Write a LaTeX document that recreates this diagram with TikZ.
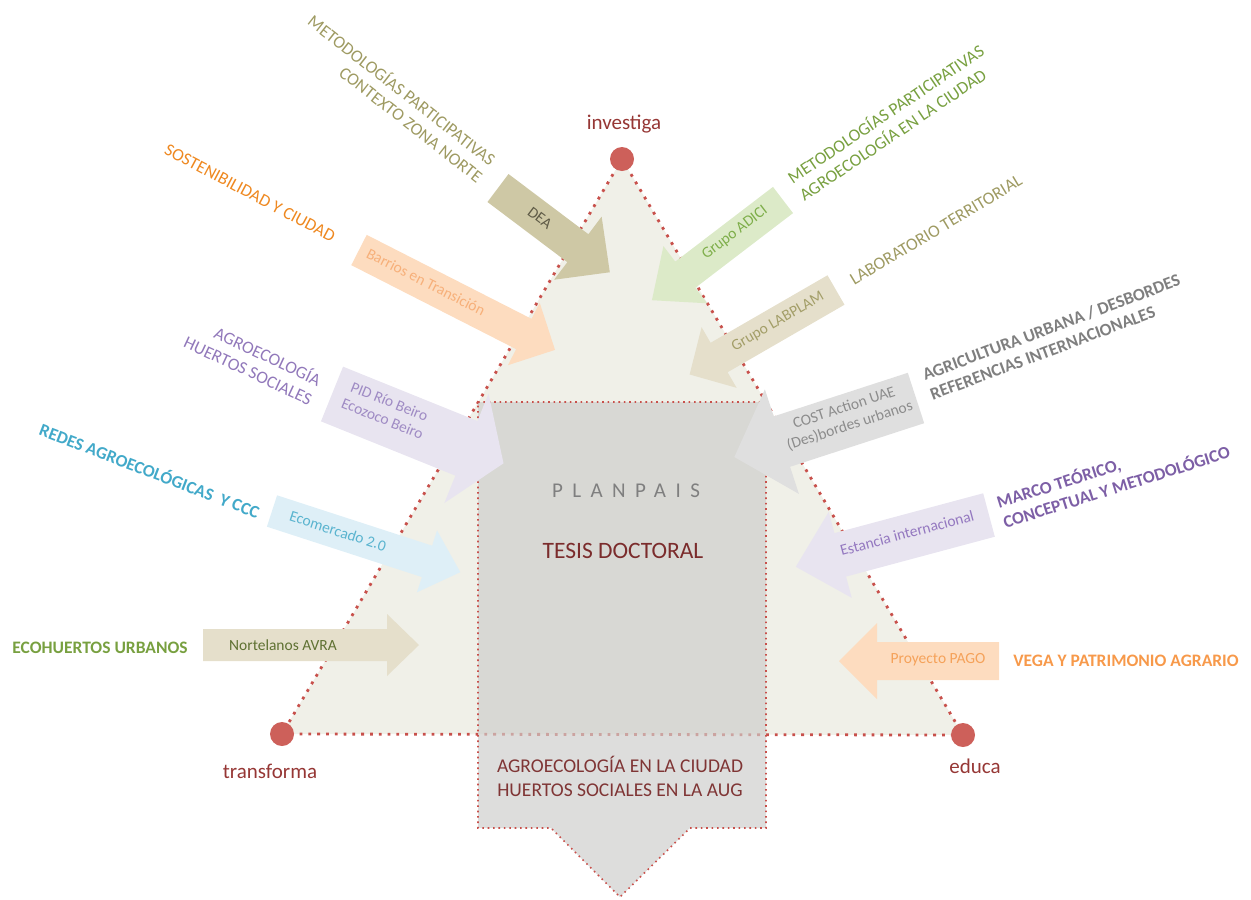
\documentclass[tikz,border=0pt]{standalone}
\usepackage{fontspec}
\setmainfont{Carlito}
\definecolor{tribg}{RGB}{240,240,232}
\definecolor{dotred}{RGB}{200,80,75}
\definecolor{vtxred}{RGB}{205,96,90}
\definecolor{darkred}{RGB}{150,55,53}
\definecolor{boxgray}{RGB}{205,205,203}
\definecolor{khaki}{RGB}{206,200,165}
\definecolor{peach}{RGB}{253,220,191}
\definecolor{lav}{RGB}{232,228,240}
\definecolor{lblue}{RGB}{222,239,247}
\definecolor{beige}{RGB}{229,223,203}
\definecolor{lgreen}{RGB}{220,234,200}
\definecolor{lgray}{RGB}{223,223,223}
\definecolor{olive}{RGB}{158,154,98}
\definecolor{orangeA}{RGB}{238,136,32}
\definecolor{purpleA}{RGB}{145,120,186}
\definecolor{blueA}{RGB}{66,169,201}
\definecolor{greenA}{RGB}{120,160,64}
\definecolor{grayA}{RGB}{127,127,127}
\definecolor{purpleB}{RGB}{125,95,166}
\definecolor{orangeB}{RGB}{247,153,74}
\tikzset{
  lbl/.style={font=\fontsize{17.5}{21}\selectfont, inner sep=0pt},
  blbl/.style={font=\bfseries\fontsize{17.5}{21}\selectfont, inner sep=0pt},
  atxt/.style={font=\fontsize{15.5}{18.5}\selectfont, inner sep=0pt},
  vlbl/.style={font=\fontsize{21}{24}\selectfont, text=darkred, inner sep=0pt},
  dotline/.style={draw=dotred, line width=2.8pt, dash pattern=on 2.8pt off 6pt},
  boxline/.style={draw=dotred, line width=1.6pt, dash pattern=on 1.6pt off 3.8pt},
  vtx/.style={circle, fill=vtxred, minimum size=24pt, inner sep=0pt}
}
\newcommand{\blockarrow}[7]{%
  \fill[#7, shift={#1}, rotate=#2] (0,{-#4/2}) -- ({#3-#6},{-#4/2}) -- ({#3-#6},{-#5/2}) -- (#3,0) -- ({#3-#6},{#5/2}) -- ({#3-#6},{#4/2}) -- (0,{#4/2}) -- cycle;}
\begin{document}
\begin{tikzpicture}[x=1pt,y=-1pt]
\useasboundingbox (0,0) rectangle (1251,900);
\coordinate (A) at (622,159);
\coordinate (B) at (282,734);
\coordinate (C) at (963,735);
% triangle
\fill[tribg] (A) -- (B) -- (C) -- cycle;
\draw[dotline] (A) -- (B);
\draw[dotline] (A) -- (C);
\draw[dotline] (B) -- (C);
% central box
\fill[boxgray, fill opacity=0.67] (478,402) -- (766,402) -- (766,828) -- (690,828) -- (620,897) -- (551,828) -- (478,828) -- cycle;
\draw[boxline] (478,402) -- (766,402) -- (766,828) -- (690,828) -- (620,897) -- (551,828) -- (478,828) -- cycle;
% arrows
\blockarrow{(498,188)}{-37}{140}{35}{79}{40}{khaki}
\blockarrow{(359,250)}{-27}{220}{34}{70}{35}{peach}
\blockarrow{(332,394)}{-22}{185}{59}{118}{40}{lav}
\blockarrow{(272,511)}{-18}{198}{33}{65}{35}{lblue}
\blockarrow{(203,645)}{0}{216}{32}{62}{32}{beige}
\blockarrow{(783,200)}{-142.6}{165}{33}{72}{42}{lgreen}
\blockarrow{(836,290)}{-150}{169}{34}{70}{34}{beige}
\blockarrow{(916,398)}{-162}{191}{53}{110}{50}{lgray}
\blockarrow{(989,515)}{-165}{200}{45}{89}{46}{lav}
\blockarrow{(999,661)}{180}{160}{38}{76}{38}{peach}
% arrow texts
\node[atxt, text={rgb,255:red,94;green,90;blue,70}, rotate=-37] (dea) at (540,218) {DEA};
\node[atxt, text={rgb,255:red,247;green,176;blue,122}, rotate=-27] (barrios) at (426,282) {Barrios en Transición};
\node[atxt, text={rgb,255:red,159;green,139;blue,196}, rotate=-22, align=center] (pid) at (386,410) {PID Río Beiro\\Ecozoco Beiro};
\node[atxt, text={rgb,255:red,90;green,180;blue,207}, rotate=-18] (ecom) at (338,531) {Ecomercado 2.0};
\node[atxt, text={rgb,255:red,95;green,113;blue,50}] (nort) at (283,645) {Nortelanos AVRA};
\node[atxt, text={rgb,255:red,126;green,174;blue,74}, rotate=37.4] (adici) at (735,233) {Grupo ADICI};
\node[atxt, text={rgb,255:red,163;green,158;blue,104}, rotate=30] (labplam) at (778,322) {Grupo LABPLAM};
\node[atxt, text={rgb,255:red,140;green,140;blue,140}, rotate=18, align=center] (cost) at (847,417) {COST Action UAE\\(Des)bordes urbanos};
\node[atxt, text={rgb,255:red,148;green,120;blue,192}, rotate=15] (estancia) at (907,533) {Estancia internacional};
\node[atxt, text={rgb,255:red,245;green,162;blue,90}] (pago) at (938,660) {Proyecto PAGO};
% outer labels
\node[lbl, text=olive, rotate=-38, align=right] (l1) at (396,98) {METODOLOGÍAS PARTICIPATIVAS\\CONTEXTO ZONA NORTE};
\node[lbl, text=orangeA, rotate=-28] (l2) at (250,193) {SOSTENIBILIDAD Y CIUDAD};
\node[lbl, text=purpleA, rotate=-25, align=right] (l3) at (253,360) {AGROECOLOGÍA\\HUERTOS SOCIALES};
\node[blbl, text=blueA, rotate=-21] (l4) at (150,470) {REDES AGROECOLÓGICAS\ \ Y CCC};
\node[blbl, text=greenA] (l5) at (100,648) {ECOHUERTOS URBANOS};
\node[lbl, text=greenA, rotate=34, align=left] (l6) at (891,122) {METODOLOGÍAS PARTICIPATIVAS\\AGROECOLOGÍA EN LA CIUDAD};
\node[lbl, text=olive, rotate=31, xshift=0pt] (l7) at (936,230) {LABORATORIO TERRITORIAL};
\node[blbl, text=grayA, rotate=20.5, align=left] (l8) at (1055,337) {AGRICULTURA URBANA / DESBORDES\\REFERENCIAS INTERNACIONALES};
\node[blbl, text=purpleB, rotate=17.5, align=left] (l9) at (1113,476) {MARCO TEÓRICO,\\CONCEPTUAL Y METODOLÓGICO};
\node[blbl, text=orangeB] (l10) at (1126,661) {VEGA Y PATRIMONIO AGRARIO};
% box texts
\node[inner sep=0pt, text=grayA, font=\fontsize{21}{24}\selectfont\addfontfeatures{LetterSpace=45}] (plan) at (626,491) {PLANPAIS};
\node[inner sep=0pt, text={rgb,255:red,123;green,44;blue,44}, font=\fontsize{23.5}{27}\selectfont] (tesis) at (623,551) {TESIS DOCTORAL};
\node[inner sep=0pt, text={rgb,255:red,127;green,53;blue,53}, font=\fontsize{19.5}{24}\selectfont, align=center] (agro) at (620,776) {AGROECOLOGÍA EN LA CIUDAD\\HUERTOS SOCIALES EN LA AUG};
% vertices
\node[vtx] (inv) at (A) {};
\node[vtx] (tra) at (B) {};
\node[vtx] (edu) at (C) {};
\node[vlbl] (invl) at (624,124) {investiga};
\node[vlbl] (tral) at (270,771) {transforma};
\node[vlbl] (edul) at (975,766) {educa};
\end{tikzpicture}
\end{document}
